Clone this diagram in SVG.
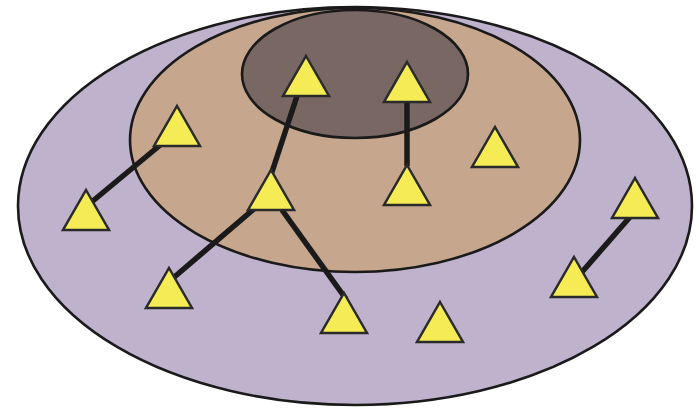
<svg xmlns="http://www.w3.org/2000/svg" width="699" height="409" viewBox="0 0 699 409">
<style>
.reg{stroke:#1a1a1a;stroke-width:2.6}
.tri{fill:#f5ec55;stroke:#2a2a2a;stroke-width:2.5;stroke-linejoin:miter}
.edge{stroke:#1a1a1a;stroke-width:5.5;stroke-linecap:butt;fill:none}
</style>
<defs>
<polygon id="t" points="0,-21 23,19 -23,19"/>
</defs>
<rect width="699" height="409" fill="#ffffff"/>
<g id="regions">
<ellipse id="outer" class="reg" cx="355" cy="206" rx="337" ry="199" fill="#bfb2cc"/>
<ellipse id="middle" class="reg" cx="355" cy="140" rx="225" ry="132" fill="#c6a78e"/>
<ellipse id="inner" class="reg" cx="355" cy="74" rx="113" ry="64" fill="#786763"/>
</g>
<g id="connectors">
<line class="edge" x1="165" y1="141" x2="88" y2="205"/>
<line class="edge" x1="297" y1="96" x2="270" y2="178"/>
<line class="edge" x1="407" y1="102" x2="407" y2="166"/>
<line class="edge" x1="255" y1="208" x2="172" y2="279"/>
<line class="edge" x1="282" y1="210" x2="346" y2="299"/>
<line class="edge" x1="630" y1="217" x2="582" y2="272"/>
</g>
<g id="n1"><use href="#t" class="tri" x="306" y="77"/></g>
<g id="n2"><use href="#t" class="tri" x="407" y="83"/></g>
<g id="n3"><use href="#t" class="tri" x="177" y="127"/></g>
<g id="n4"><use href="#t" class="tri" x="495" y="148"/></g>
<g id="n5"><use href="#t" class="tri" x="407" y="186"/></g>
<g id="n6"><use href="#t" class="tri" x="271" y="191"/></g>
<g id="n7"><use href="#t" class="tri" x="86" y="211"/></g>
<g id="n8"><use href="#t" class="tri" x="635" y="199"/></g>
<g id="n9"><use href="#t" class="tri" x="169" y="289"/></g>
<g id="n10"><use href="#t" class="tri" x="574" y="278"/></g>
<g id="n11"><use href="#t" class="tri" x="344" y="314"/></g>
<g id="n12"><use href="#t" class="tri" x="440" y="323"/></g>
</svg>
